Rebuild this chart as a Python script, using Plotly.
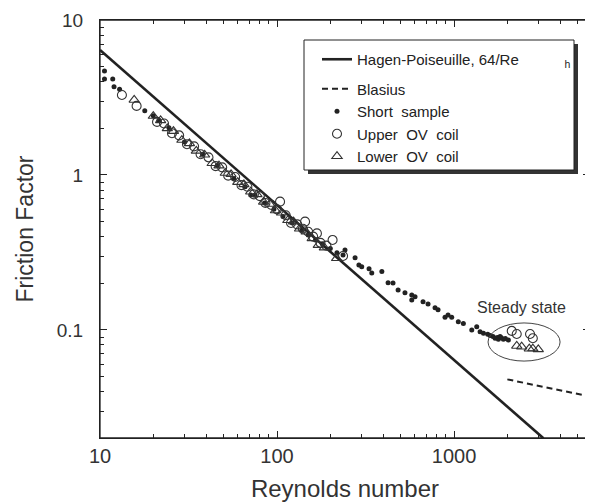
import plotly.graph_objects as go
import math

# ---------------- data ----------------
hp_re = [10, 3200]
hp_f = [6.4, 0.02]

bl_re = [2000, 6000]
bl_f = [0.048, 0.037]

short_re = [10.6, 10.6, 11.8, 12.0, 12.9, 17.9, 20.0, 21.5, 24.5, 30, 38, 46, 57, 66, 71, 75, 85,
            96, 108, 122, 138, 150, 165, 180, 200, 218,
            236, 242, 276, 290, 301, 331, 343, 391, 424, 452, 483, 528, 577, 577, 602, 668, 713,
            781, 812, 889, 925, 970, 1057, 1129, 1259, 1343, 1403, 1466, 1550, 1600, 1660, 1706,
            1757, 1780, 1820, 1850, 1900, 1950, 2028]
short_f = [4.69, 4.16, 4.16, 3.71, 3.57, 2.60, 2.41, 2.25, 2.02, 1.63, 1.36, 1.15, 0.95, 0.84, 0.743, 0.74, 0.66,
           0.60, 0.54, 0.49, 0.44, 0.41, 0.38, 0.36, 0.335, 0.315,
           0.305, 0.328, 0.292, 0.263, 0.256, 0.248, 0.233, 0.238, 0.202, 0.201, 0.181, 0.174, 0.168, 0.156,
           0.164, 0.152, 0.147, 0.139, 0.135, 0.121, 0.125, 0.121, 0.113, 0.110, 0.100, 0.105, 0.0975,
           0.0952, 0.094, 0.092, 0.0906, 0.0884, 0.0895, 0.087, 0.0906, 0.089, 0.0871, 0.088, 0.0861]

upper_re = [13.3, 16.1, 21, 23, 25.5, 28, 31, 34, 37, 41, 45, 49, 53, 58, 63, 68, 74, 80, 86, 93,
            100, 104, 112, 120, 130, 140, 144, 150, 160, 168, 176, 190, 206, 236,
            2118, 2260, 2687, 2786]
upper_f = [3.28, 2.79, 2.20, 2.15, 1.86, 1.80, 1.58, 1.53, 1.36, 1.30, 1.14, 1.12, 0.99, 0.97, 0.86, 0.84,
           0.75, 0.73, 0.66, 0.64, 0.60, 0.673, 0.55, 0.49, 0.48, 0.45, 0.50, 0.43, 0.40, 0.42, 0.365,
           0.35, 0.381, 0.30,
           0.0986, 0.0942, 0.0942, 0.0884]

lower_re = [15.6, 20, 22, 24, 26, 29, 32, 35, 39, 43, 47, 51, 55, 60, 65, 71, 77, 84, 91, 98, 106,
            115, 124, 134, 146, 158, 171, 185, 217,
            2260, 2410, 2661, 2786, 2992]
lower_f = [3.05, 2.40, 2.25, 2.00, 1.92, 1.68, 1.60, 1.43, 1.35, 1.19, 1.15, 1.03, 1.01, 0.90, 0.87,
           0.78, 0.75, 0.67, 0.65, 0.59, 0.57, 0.51, 0.50, 0.45, 0.43, 0.39, 0.353, 0.34, 0.290,
           0.0789, 0.078, 0.0757, 0.0759, 0.075]

x_ticks = [10, 100, 1000]
x_tick_text = ["10", "100", "1000"]
x_minor = [20, 30, 40, 50, 60, 70, 80, 90, 200, 300, 400, 500, 600, 700, 800, 900,
           2000, 3000, 4000, 5000]
y_ticks = [0.1, 1, 10]
y_tick_text = ["0.1", "1", "10"]
y_minor = [0.03, 0.04, 0.05, 0.06, 0.07, 0.08, 0.09, 0.2, 0.3, 0.4, 0.5, 0.6, 0.7, 0.8, 0.9,
           2, 3, 4, 5, 6, 7, 8, 9]

steady_re = [1556, 3972]
steady_f = [0.063, 0.111]
steady_label_re = 2400
steady_label_f = 0.14

# ---------------- figure ----------------
FONT = "Liberation Sans, Arial, Helvetica, sans-serif"
INK = "#222222"
NB = "\u00a0"

# page body has an 8px margin: figure is drawn 8px in from the top-left of the window
W, H = 585, 496
ML, MR, MT, MB = 92, 3, 12, 66
PW, PH = W - ML - MR, H - MT - MB  # 490 x 418 plot area (x 100..590, y 20..438 in window)


def px_x(p):
    return (p - 8 - ML) / PW


def px_y(p):
    return (H - MB - (p - 8)) / PH


fig = go.Figure()

fig.add_trace(go.Scatter(
    x=hp_re, y=hp_f, mode="lines",
    name="Hagen-Poiseuille, 64/Re" + NB * 11 + "<sub>h</sub>",
    line=dict(color=INK, width=2.6), legendgroup="g1"))
fig.add_trace(go.Scatter(
    x=bl_re, y=bl_f, mode="lines", name="Blasius",
    line=dict(color=INK, width=2, dash="6px,4px"), legendgroup="g2"))
fig.add_trace(go.Scatter(
    x=short_re, y=short_f, mode="markers", name="Short" + NB + " sample",
    marker=dict(symbol="circle", size=5, color=INK), legendgroup="g2"))
fig.add_trace(go.Scatter(
    x=upper_re, y=upper_f, mode="markers", name="Upper" + NB + " OV" + NB + " coil",
    marker=dict(symbol="circle-open", size=9, color="#333333", line=dict(width=1.1)),
    legendgroup="g2"))
fig.add_trace(go.Scatter(
    x=lower_re, y=lower_f, mode="markers", name="Lower" + NB + " OV" + NB + " coil",
    marker=dict(symbol="triangle-up-open", size=9, color="#333333", line=dict(width=1.1)),
    legendgroup="g2"))

# plot frame
fig.add_shape(type="rect", xref="paper", yref="paper", x0=0, x1=1, y0=0, y1=1,
              fillcolor="rgba(0,0,0,0)", line=dict(color=INK, width=1.3), layer="above")

# legend box with drop shadow (paper coords)
bx0, bx1 = px_x(304), px_x(574)
by0, by1 = px_y(170), px_y(40)
sx, sy = 4 / PW, 4 / PH
fig.add_shape(type="rect", xref="paper", yref="paper", x0=bx0 + sx, x1=bx1 + sx,
              y0=by0 - sy, y1=by1 - sy, fillcolor="#333333", line=dict(width=0), layer="above")
fig.add_shape(type="rect", xref="paper", yref="paper", x0=bx0, x1=bx1, y0=by0, y1=by1,
              fillcolor="white", line=dict(color=INK, width=1), layer="above")

# steady-state ellipse
fig.add_shape(type="circle", xref="x", yref="y", x0=steady_re[0], x1=steady_re[1],
              y0=steady_f[0], y1=steady_f[1], line=dict(color="#444444", width=1))
fig.add_annotation(x=math.log10(steady_label_re), y=math.log10(steady_label_f),
                   xref="x", yref="y", text="Steady state", showarrow=False,
                   font=dict(family=FONT, size=16, color="#333333"))

fig.update_xaxes(
    type="log", range=[1, 3.768], showgrid=False, zeroline=False,
    showline=True, linecolor=INK, linewidth=1, mirror="allticks",
    ticks="inside", ticklen=7, tickwidth=1, tickcolor=INK,
    tickmode="array", tickvals=x_ticks, ticktext=x_tick_text,
    tickfont=dict(family=FONT, size=20, color="#333333"),
    minor=dict(ticks="inside", ticklen=4, tickwidth=1, tickcolor=INK,
               tickmode="array", tickvals=x_minor, showgrid=False),
    title=dict(text="Reynolds number", font=dict(family=FONT, size=24, color="#333333"),
               standoff=14),
)
fig.update_yaxes(
    type="log", range=[-1.697, 1], showgrid=False, zeroline=False,
    showline=True, linecolor=INK, linewidth=1, mirror="allticks",
    ticks="inside", ticklen=7, tickwidth=1, tickcolor=INK,
    tickmode="array", tickvals=y_ticks, ticktext=y_tick_text,
    tickfont=dict(family=FONT, size=19, color="#333333"),
    minor=dict(ticks="inside", ticklen=4, tickwidth=1, tickcolor=INK,
               tickmode="array", tickvals=y_minor, showgrid=False),
    ticklabelstandoff=12,
    title=dict(text="Friction Factor", font=dict(family=FONT, size=23, color="#333333"),
               standoff=16),
)

fig.update_layout(
    width=W, height=H,
    margin=dict(l=ML, r=MR, t=MT, b=MB, autoexpand=False),
    paper_bgcolor="white", plot_bgcolor="white",
    font=dict(family=FONT, color="#333333"),
    showlegend=True,
    legend=dict(x=px_x(317), y=px_y(43), xanchor="left", yanchor="top",
                bgcolor="rgba(0,0,0,0)", borderwidth=0, tracegroupgap=7,
                font=dict(family=FONT, size=15, color="#222222"), traceorder="grouped"),
)

fig.write_html("out.html")
